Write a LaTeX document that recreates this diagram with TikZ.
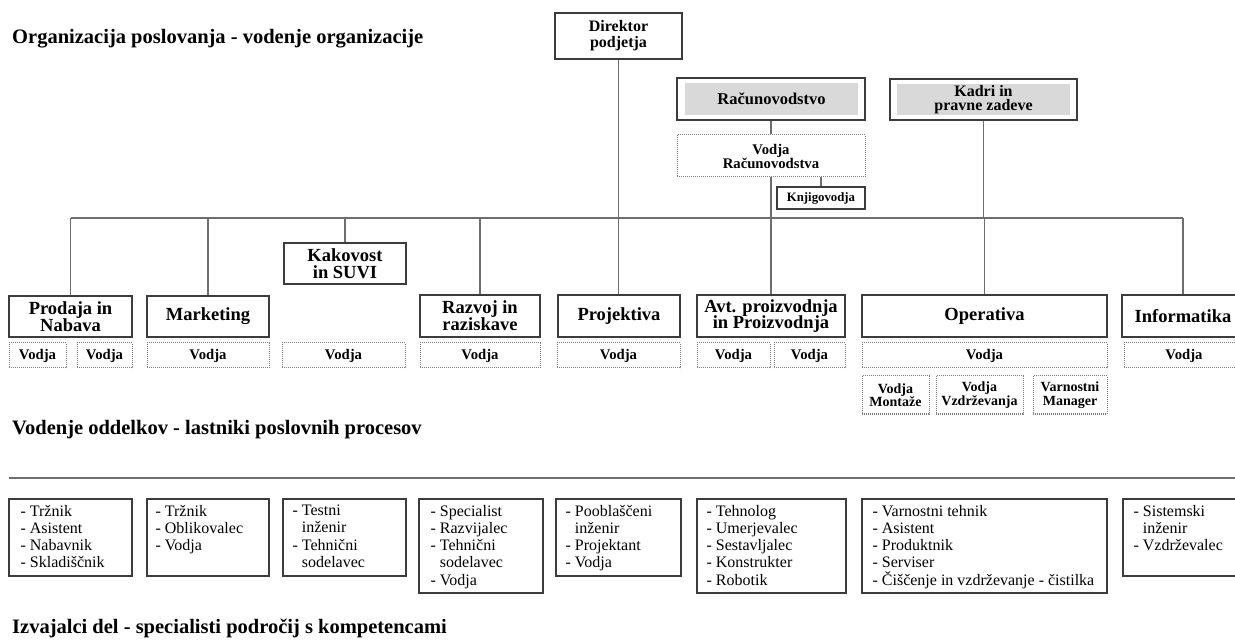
\documentclass[tikz,border=0pt]{standalone}
\usepackage{fontspec}
\setmainfont{Liberation Serif}
\usepackage{tikz}
\definecolor{boxline}{HTML}{3C3C3C}
\definecolor{link}{HTML}{6E6E6E}
\definecolor{dots}{HTML}{808080}
\definecolor{shade}{HTML}{D9D9D9}
\setlength{\lineskiplimit}{-20pt}
\tikzset{
  heading/.style={anchor=base west, inner sep=0pt, font=\fontsize{20.5}{24}\selectfont\bfseries},
  unit/.style={draw=boxline, line width=1.4pt, fill=white, inner sep=0pt, align=center,
    font=\fontsize{18.5}{16.7}\selectfont\bfseries},
  shaded/.style={fill=shade, inner sep=0pt, align=center, font=\fontsize{16.5}{16}\selectfont\bfseries},
  lead/.style={draw=dots, densely dotted, line width=1pt, inner sep=0pt, align=center,
    minimum height=25, font=\fontsize{14.7}{14}\selectfont\bfseries},
  sub/.style={lead, minimum height=38, font=\fontsize{14}{13.5}\selectfont\bfseries},
  crew/.style={draw=boxline, line width=1.2pt, inner sep=0pt},
  crewtext/.style={anchor=north west, inner sep=0pt, align=left, font=\fontsize{16}{17.25}\selectfont},
  wire/.style={draw=link, line width=1.3pt}
}
\begin{document}
\begin{tikzpicture}[x=1pt,y=-1pt]
  \clip (0,0) rectangle (1235,644);
  \node[heading] (title) at (12,43.3) {Organizacija poslovanja - vodenje organizacije};
  \node[heading] (owners) at (12,435) {Vodenje oddelkov - lastniki poslovnih procesov};
  \node[heading] (experts) at (12,633) {Izvajalci del - specialisti področij s kompetencami};

  \node[unit, line width=2.2pt, minimum width=127, minimum height=46,
    font=\fontsize{16}{16}\selectfont\bfseries] (dir) at (618.5,36) {Direktor\\podjetja};
  \node[unit, minimum width=188, minimum height=42] (rac) at (771,99) {};
  \node[shaded, minimum width=173, minimum height=32] (racin) at (771.5,99) {Računovodstvo};
  \node[lead, minimum width=188, minimum height=42] (vrac) at (771,156) {Vodja\\Računovodstva};
  \node[unit, line width=1.2pt, minimum width=88, minimum height=22,
    font=\fontsize{12.8}{13}\selectfont\bfseries] (knj) at (821,198) {Knjigovodja};
  \node[unit, minimum width=187, minimum height=41] (kad) at (983.5,99.5) {};
  \node[shaded, minimum width=173, minimum height=31,
    font=\fontsize{16}{13.8}\selectfont\bfseries] (kadin) at (983.5,99.5) {Kadri in\\pravne zadeve};

  \node[unit, minimum width=123, minimum height=41] (prod) at (70.5,316.5) {Prodaja in\\Nabava};
  \node[unit, minimum width=122, minimum height=41] (mark) at (208,316.5) {Marketing};
  \node[unit, minimum width=122, minimum height=41, font=\fontsize{18.5}{17}\selectfont\bfseries] (kak) at (345,263.5) {Kakovost\\in SUVI};
  \node[unit, minimum width=120, minimum height=42] (razv) at (480,316) {Razvoj in\\raziskave};
  \node[unit, minimum width=122, minimum height=42] (proj) at (619,316) {Projektiva};
  \node[unit, minimum width=148, minimum height=42] (avt) at (771,316) {Avt. proizvodnja\\in Proizvodnja};
  \node[unit, minimum width=245, minimum height=42] (oper) at (984.5,316) {Operativa};
  \node[unit, minimum width=122, minimum height=42] (inf) at (1183,316) {Informatika};

  \node[lead, minimum width=57] (pv1) at (37.5,355.5) {Vodja};
  \node[lead, minimum width=55] (pv2) at (104.5,355.5) {Vodja};
  \node[lead, minimum width=122] (mv) at (208,355.5) {Vodja};
  \node[lead, minimum width=123] (kv) at (343.5,355.5) {Vodja};
  \node[lead, minimum width=120] (rv) at (480,355.5) {Vodja};
  \node[lead, minimum width=123] (pjv) at (618.5,355.5) {Vodja};
  \node[lead, minimum width=73] (av1) at (733.5,355.5) {Vodja};
  \node[lead, minimum width=71] (av2) at (809.5,355.5) {Vodja};
  \node[lead, minimum width=245] (ov) at (984.5,355.5) {Vodja};
  \node[lead, minimum width=120] (iv) at (1184,355.5) {Vodja};

  \node[sub, minimum width=67] (om) at (895.5,395) {Vodja\\Montaže};
  \node[sub, minimum width=87] (ovz) at (979.5,395) {Vodja\\Vzdrževanja};
  \node[sub, minimum width=74] (ovm) at (1070,395) {Varnostni\\Manager};

  \coordinate (bus) at (0,218);
  \draw[wire] (prod.north |- bus) -- (inf.north |- bus);
  \foreach \n in {prod,mark,kak,razv,avt,oper,inf}
    \draw[wire] (\n.north |- bus) -- (\n.north);
  \draw[wire] (dir.south) -- (dir.south |- proj.north);
  \draw[wire] (rac.south) -- (vrac.north);
  \draw[wire] (vrac.south) -- (avt.north);
  \draw[wire] (knj.north) -- (knj.north |- vrac.south);
  \draw[wire] (kad.south) -- (kad.south |- bus);

  \draw[wire] (9,478) -- (1235,478);

  \node[crew, minimum width=123, minimum height=77] (b1) at (70.5,537.5) {};
  \node[crew, minimum width=122, minimum height=77] (b2) at (208,537.5) {};
  \node[crew, minimum width=123, minimum height=77] (b3) at (344.5,537.5) {};
  \node[crew, minimum width=124, minimum height=94] (b4) at (481,546) {};
  \node[crew, minimum width=125, minimum height=77] (b5) at (618.5,537.5) {};
  \node[crew, minimum width=149, minimum height=94] (b6) at (771.5,546) {};
  \node[crew, minimum width=245, minimum height=94] (b7) at (984.5,546) {};
  \node[crew, minimum width=121, minimum height=77] (b8) at (1183.5,537.5) {};

  \node[crewtext] (t1) at ([xshift=12pt,yshift=-6.5pt]b1.north west) {- Tržnik\\- Asistent\\- Nabavnik\\- Skladiščnik};
  \node[crewtext] (t2) at ([xshift=9pt,yshift=-6.5pt]b2.north west) {- Tržnik\\- Oblikovalec\\- Vodja};
  \node[crewtext] (t3) at ([xshift=10pt,yshift=-6.5pt]b3.north west) {- Testni\\\phantom{- }inženir\\- Tehnični\\\phantom{- }sodelavec};
  \node[crewtext] (t4) at ([xshift=12pt,yshift=-6.5pt]b4.north west) {- Specialist\\- Razvijalec\\- Tehnični\\\phantom{- }sodelavec\\- Vodja};
  \node[crewtext] (t5) at ([xshift=10pt,yshift=-6.5pt]b5.north west) {- Pooblaščeni\\\phantom{- }inženir\\- Projektant\\- Vodja};
  \node[crewtext] (t6) at ([xshift=10pt,yshift=-6.5pt]b6.north west) {- Tehnolog\\- Umerjevalec\\- Sestavljalec\\- Konstrukter\\- Robotik};
  \node[crewtext] (t7) at ([xshift=11pt,yshift=-6.5pt]b7.north west) {- Varnostni tehnik\\- Asistent\\- Produktnik\\- Serviser\\- Čiščenje in vzdrževanje - čistilka};
  \node[crewtext] (t8) at ([xshift=11pt,yshift=-6.5pt]b8.north west) {- Sistemski\\\phantom{- }inženir\\- Vzdrževalec};
\end{tikzpicture}
\end{document}
